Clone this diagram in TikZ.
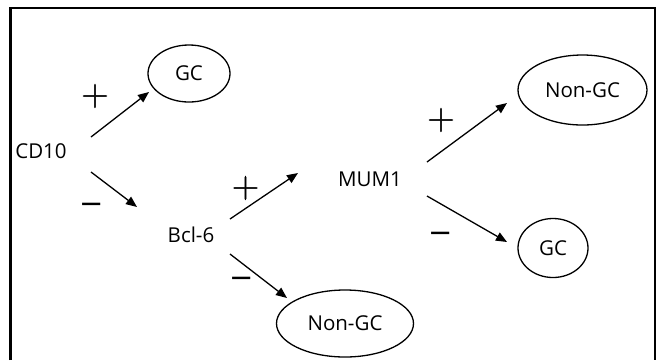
\documentclass[tikz,border=0pt]{standalone}
\usepackage{fontspec}
\setmainfont{Open Sans}
\newfontfamily\plusfont[FakeBold=1]{Latin Modern Roman}
\newfontfamily\minusfont{DejaVu Sans}
\usetikzlibrary{shapes.geometric,arrows.meta}
\tikzset{
  lbl/.style={inner sep=0pt, font=\fontsize{20.5}{24}\selectfont},
  cell/.style={ellipse, draw, line width=1.3pt, inner sep=0pt,
               font=\fontsize{20.5}{24}\selectfont},
  link/.style={line width=1.3pt, -{Triangle[length=11pt,width=9pt]}},
  plussign/.style={inner sep=0pt, font=\plusfont\fontsize{38}{38}\selectfont},
  minussign/.style={inner sep=0pt, font=\minusfont\fontsize{29}{29}\selectfont},
}
\begin{document}
\begin{tikzpicture}[x=1pt,y=-1pt]
\useasboundingbox (0,0) rectangle (659,360);
% open frame
\draw[line width=2.5pt] (10.5,360) -- (10.5,8) -- (655,8) -- (655,360);

% markers and outcomes
\node[lbl] (cd10) at (41,151) {CD10};
\node[lbl] (bcl) at (191,235) {Bcl-6};
\node[lbl] (mum) at (370,179) {MUM1};
\node[cell, minimum width=82pt, minimum height=57pt] (gc1) at (189,73.5) {GC};
\node[cell, minimum width=129pt, minimum height=70pt] (nongc1) at (582.5,90) {Non-GC};
\node[cell, minimum width=70pt, minimum height=59pt] (gc2) at (553,248) {GC};
\node[cell, minimum width=137pt, minimum height=67pt] (nongc2) at (345,323.5) {Non-GC};

% decision arrows
\draw[link] ([shift={(50,-14)}]cd10.center) -- ([shift={(-40,18.5)}]gc1.center);
\draw[link] ([shift={(50,21)}]cd10.center) -- ([shift={(-54,-28)}]bcl.center);
\draw[link] ([shift={(39,-16)}]bcl.center) -- ([shift={(-72,-6)}]mum.center);
\draw[link] ([shift={(39,19)}]bcl.center) -- ([shift={(-58,-25.5)}]nongc2.center);
\draw[link] ([shift={(57,-17)}]mum.center) -- ([shift={(-75.5,13)}]nongc1.center);
\draw[link] ([shift={(57,17)}]mum.center) -- ([shift={(-46,-6)}]gc2.center);

% signs on the branches
\node[plussign] (p1) at (95,96) {+};
\node[minussign] (m1) at (92,208) {−};
\node[plussign] (p2) at (245.5,188) {+};
\node[minussign] (m2) at (242,282) {−};
\node[plussign] (p3) at (441,120) {+};
\node[minussign] (m3) at (441,237) {−};
\end{tikzpicture}
\end{document}
